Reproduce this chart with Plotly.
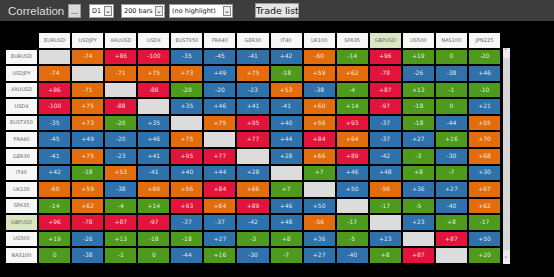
import plotly.graph_objects as go

# ---------------- data ----------------
columns = ["EURUSD", "USDJPY", "XAUUSD", "USDX", "EUSTX50", "FRA40", "GER30",
           "IT40", "UK100", "SPA35", "GBPUSD", "US500", "NAS100", "JPN225"]
rows = ["EURUSD", "USDJPY", "XAUUSD", "USDX", "EUSTX50", "FRA40", "GER30",
        "IT40", "UK100", "SPA35", "GBPUSD", "US500", "NAS100"]

corr_eurusd  = [None, -74, 86, -100, -35, -45, -41, 42, -60, -14, 96, 19, 0, -20]
corr_usdjpy  = [-74, None, -71, 75, 73, 49, 75, -18, 59, 62, -78, -26, -38, 46]
corr_xauusd  = [86, -71, None, -88, -20, -20, -23, 53, -38, -4, 87, 13, -1, -10]
corr_usdx    = [-100, 75, -88, None, 35, 46, 41, -41, 60, 14, -97, -18, 0, 21]
corr_eustx50 = [-35, 73, -20, 35, None, 75, 95, 40, 56, 93, -37, -18, -44, 55]
corr_fra40   = [-45, 49, -20, 46, 75, None, 77, 44, 84, 64, -37, 27, 16, 70]
corr_ger30   = [-41, 75, -23, 41, 95, 77, None, 28, 66, 89, -42, -3, -30, 68]
corr_it40    = [42, -18, 53, -41, 40, 44, 28, None, 7, 46, 48, 8, -7, 30]
corr_uk100   = [-60, 59, -38, 60, 56, 84, 66, 7, None, 50, -56, 36, 27, 67]
corr_spa35   = [-14, 62, -4, 14, 93, 64, 89, 46, 50, None, -17, -5, -40, 62]
corr_gbpusd  = [96, -78, 87, -97, -37, -37, -42, 48, -56, -17, None, 23, 8, -17]
corr_us500   = [19, -26, 13, -18, -18, 27, -3, 8, 36, -5, 23, None, 87, 50]
corr_nas100  = [0, -38, -1, 0, -44, 16, -30, -7, 27, -40, 8, 87, None, 20]

matrix = [corr_eurusd, corr_usdjpy, corr_xauusd, corr_usdx, corr_eustx50,
          corr_fra40, corr_ger30, corr_it40, corr_uk100, corr_spa35,
          corr_gbpusd, corr_us500, corr_nas100]

# cells whose displayed "-20" falls in the 'medium' band in the source
medium_band_cells = [("XAUUSD", "FRA40"), ("FRA40", "XAUUSD")]
highlight = "GBPUSD"

timeframe = "D1"
bars = "200 bars"
highlight_menu = "(no highlight)"

# ---------------- build grid ----------------
LBL, HDR = "lbl", "hdr"
xcats = [LBL] + columns
ycats = [HDR] + rows

# classes: 0 white, 1 green, 2 blue, 3 orange, 4 red, 5 diagonal, 6 highlight
def band(v, r, c):
    if v is None:
        return 5
    a = abs(v)
    if (r, c) in medium_band_cells:
        return 2
    if a >= 76:
        return 4
    if a > 50:
        return 3
    if a > 20:
        return 2
    return 1

z = []
z.append([None] + [6 if c == highlight else 0 for c in columns])
for r, vals in zip(rows, matrix):
    z.append([6 if r == highlight else 0] + [band(v, r, c) for v, c in zip(vals, columns)])

colors = ["#f7f7f7", "#4e9a1c", "#2f72ab", "#e36d0c", "#e3143c", "#dcdcdc", "#dde6c2"]
n = len(colors)
cs = []
for i, col in enumerate(colors):
    cs.append([i / n, col])
    cs.append([(i + 1) / n, col])

fig = go.Figure()
fig.add_trace(go.Heatmap(
    x=xcats, y=ycats, z=z, colorscale=cs, zmin=-0.5, zmax=n - 0.5,
    showscale=False, xgap=2, ygap=2, hoverinfo="skip",
))

# texts
tx, ty, tt, tc, ts = [], [], [], [], []
for c in columns:
    tx.append(c); ty.append(HDR); tt.append(c); tc.append("#666666"); ts.append(5)
for r, vals in zip(rows, matrix):
    tx.append(LBL); ty.append(r); tt.append(r); tc.append("#666666"); ts.append(5)
    for v, c in zip(vals, columns):
        if v is None:
            continue
        s = "0" if v == 0 else ("%+d" % v)
        tx.append(c); ty.append(r); tt.append(s); tc.append("rgba(255,255,255,0.85)"); ts.append(6)

fig.add_trace(go.Scatter(
    x=tx, y=ty, text=tt, mode="text",
    textfont=dict(color=tc, size=ts, family="DejaVu Sans"),
    hoverinfo="skip", showlegend=False, cliponaxis=False,
))

W, H = 554, 277
ML, MR, MT, MB = 5, 53, 32, 13
PW, PH = W - ML - MR, H - MT - MB

def px(x):
    return (x - ML) / PW

def py(y):
    return (H - MB - y) / PH

shapes = [
    dict(type="rect", xref="paper", yref="paper", x0=px(0), x1=px(W), y0=py(21), y1=py(0),
         fillcolor="#3d3d3d", line=dict(width=0), layer="below"),
    dict(type="rect", xref="paper", yref="paper", x0=px(503), x1=px(510), y0=py(264), y1=py(48),
         fillcolor="#ececec", line=dict(width=0)),
    dict(type="rect", xref="paper", yref="paper", x0=px(503), x1=px(510), y0=py(250), y1=py(58),
         fillcolor="#d6d6d6", line=dict(width=0)),
]

annotations = [
    dict(text="Correlation", xref="paper", yref="paper", x=px(6), y=py(11),
         xanchor="left", yanchor="middle", showarrow=False,
         font=dict(size=11.5, color="#dddddd", family="Liberation Sans")),
    dict(text="...", xref="paper", yref="paper", x=px(68), y=py(10.5),
         xanchor="left", yanchor="middle", showarrow=False, width=11, height=12,
         bgcolor="#d9d9d9", bordercolor="#9a9a9a", borderwidth=1, borderpad=0,
         font=dict(size=8, color="#333333", family="DejaVu Sans")),
    dict(text="Trade list", xref="paper", yref="paper", x=px(255), y=py(10.5),
         xanchor="left", yanchor="middle", showarrow=False, width=42, height=13,
         bgcolor="#e6e6e6", bordercolor="#9a9a9a", borderwidth=1, borderpad=0,
         font=dict(size=9.5, color="#111111", family="DejaVu Sans")),
]

def dropdown(label, x0, x1):
    annotations.append(dict(text="&nbsp;" + label, xref="paper", yref="paper", x=px(x0), y=py(10.5),
                            xanchor="left", yanchor="middle", align="left", showarrow=False,
                            width=x1 - x0 - 2, height=12, bgcolor="#ffffff",
                            bordercolor="#9a9a9a", borderwidth=1, borderpad=0,
                            font=dict(size=6.5, color="#222222", family="DejaVu Sans")))
    annotations.append(dict(text="⌄", xref="paper", yref="paper", x=px(x1 - 10), y=py(10.5),
                            xanchor="left", yanchor="middle", showarrow=False,
                            width=6, height=8, bgcolor="#eeeeee",
                            bordercolor="#888888", borderwidth=1, borderpad=0,
                            font=dict(size=7, color="#333333", family="DejaVu Sans")))

dropdown(timeframe, 89, 114)
dropdown(bars, 121, 165)
dropdown(highlight_menu, 169, 233)

for ch, yy in (("˄", 52), ("˅", 260)):
    annotations.append(dict(text=ch, xref="paper", yref="paper", x=px(506.5), y=py(yy),
                            xanchor="center", yanchor="middle", showarrow=False,
                            font=dict(size=7, color="#555555", family="DejaVu Sans")))

fig.update_layout(
    width=W, height=H,
    margin=dict(l=ML, r=MR, t=MT, b=MB),
    paper_bgcolor="#000000", plot_bgcolor="#000000",
    xaxis=dict(type="category", categoryorder="array", categoryarray=xcats,
               range=[-0.5, len(xcats) - 0.5], visible=False, fixedrange=True),
    yaxis=dict(type="category", categoryorder="array", categoryarray=ycats,
               range=[len(ycats) - 0.5, -0.5], visible=False, fixedrange=True),
    shapes=shapes, annotations=annotations, showlegend=False,
)

fig.write_html("out.html", config={"displayModeBar": False})
